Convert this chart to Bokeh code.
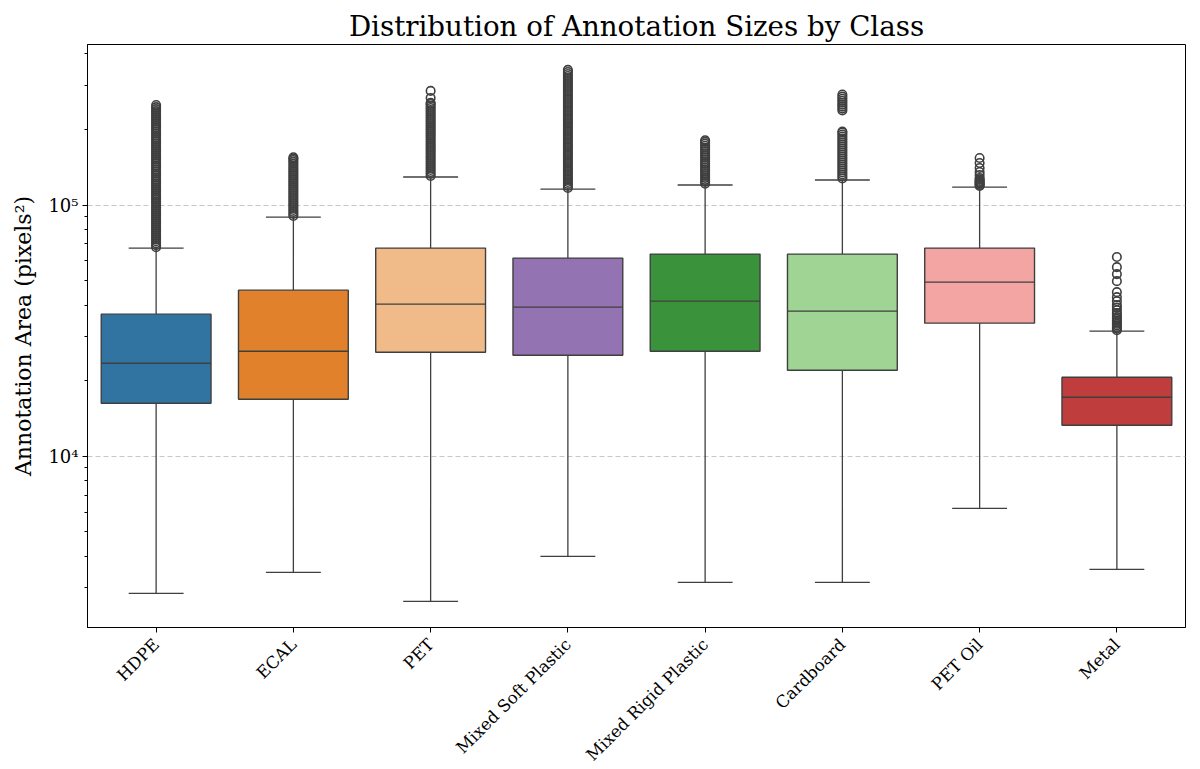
import math
from bokeh.plotting import figure
from bokeh.models import ColumnDataSource, FixedTicker, Range1d
from bokeh.embed import file_html
from bokeh.resources import INLINE

classes = ["HDPE", "ECAL", "PET", "Mixed Soft Plastic", "Mixed Rigid Plastic",
           "Cardboard", "PET Oil", "Metal"]
q1 = [16260, 16870, 25960, 25260, 26200, 22000, 33880, 13290]
median = [23460, 26200, 40330, 39230, 41450, 37820, 49350, 17180]
q3 = [36790, 45850, 67400, 61500, 63800, 63800, 67400, 20640]
whisker_low = [2846, 3450, 2645, 3995, 3148, 3148, 6205, 3546]
whisker_high = [67400, 89600, 129300, 115800, 120200, 125800, 117900, 31480]
colors = ["#3274a1", "#e1812c", "#f0bb88", "#9473b3", "#3a923a", "#a0d494",
          "#f3a5a4", "#c03d3e"]

outliers_hdpe = [68000, 69260, 70540, 71840, 73170, 74520, 75900, 77300, 78730,
                 80190, 81670, 83180, 84720, 86290, 87890, 89510, 91170, 92860,
                 94570, 96320, 98100, 99920, 101800, 103600, 105600, 107500,
                 109500, 111500, 113600, 115700, 117800, 120000, 122200, 124500,
                 126800, 129100, 131500, 133900, 136400, 138900, 141500, 144100,
                 146800, 149500, 152300, 155100, 158000, 160900, 163900, 166900,
                 170000, 173100, 176300, 179600, 182900, 186300, 189700, 193200,
                 196800, 200500, 204200, 208000, 211800, 215700, 219700, 223800,
                 227900, 232100, 236400, 240800, 245300, 250000]
outliers_ecal = [90500, 92200, 93900, 95600, 97400, 99200, 101000, 102900, 104800,
                 106700, 108700, 110700, 112800, 114900, 117000, 119200, 121400,
                 123600, 125900, 128200, 130600, 133000, 135500, 138000, 140500,
                 143100, 145800, 148500, 151200, 153100, 155000]
outliers_pet = [130500, 132900, 135400, 137900, 140500, 143100, 145700, 148400,
                151200, 154000, 156800, 159700, 162700, 165700, 168800, 171900,
                175100, 178300, 181600, 185000, 188400, 191900, 195500, 199100,
                202800, 206500, 210300, 214200, 218200, 222200, 226300, 230500,
                234800, 239100, 243500, 248000, 252600, 255000, 266900, 284600]
outliers_soft = [117000, 119200, 121400, 123600, 125900, 128200, 130600, 133000,
                 135500, 138000, 140500, 143100, 145800, 148500, 151200, 154000,
                 156900, 159800, 162700, 165700, 168800, 171900, 175100, 178300,
                 181600, 185000, 188400, 191900, 195500, 199100, 202800, 206500,
                 210300, 214200, 218200, 222200, 226300, 230500, 234800, 239100,
                 243500, 248000, 252600, 257300, 262100, 266900, 271800, 276800,
                 281900, 287200, 292500, 297900, 303400, 309000, 314700, 320500,
                 326500, 332500, 338700, 345000]
outliers_rigid = [121500, 123700, 126000, 128300, 130700, 133100, 135600, 138100,
                  140700, 143300, 145900, 148600, 151400, 154200, 157000, 159900,
                  162900, 165900, 169000, 172100, 175300, 178500, 181000]
outliers_cardboard = [127500, 129900, 132300, 134700, 137200, 139700, 142300,
                      145000, 147700, 150400, 153200, 156000, 158900, 161800,
                      164800, 167900, 171000, 174200, 177400, 180700, 184000,
                      187400, 190900, 194400, 196300,
                      237900, 242000, 246500, 251000, 255500, 260000, 265000,
                      270000, 275500]
outliers_petoil = [119100, 120200, 121300, 122500, 123600, 124800, 126500,
                   128100, 131700, 135300, 140400, 147000, 153900]
outliers_metal = [31770, 32200, 32650, 33200, 33700, 34190, 34700, 35240, 35790,
                  36500, 37130, 38170, 39100, 39960, 41450, 43000, 45020, 49800,
                  53120, 56600, 62100]
outliers = [outliers_hdpe, outliers_ecal, outliers_pet, outliers_soft,
            outliers_rigid, outliers_cardboard, outliers_petoil, outliers_metal]

y_ticks = [10000, 100000]
y_minor = [2000, 3000, 4000, 5000, 6000, 7000, 8000, 9000,
           20000, 30000, 40000, 50000, 60000, 70000, 80000, 90000,
           200000, 300000, 400000]

FONT = "DejaVu Serif"
EDGE = "#3f3f3f"

xs = list(range(len(classes)))
box_src = ColumnDataSource(dict(
    x=xs, q1=q1, q3=q3, med=median, lo=whisker_low, hi=whisker_high,
    color=colors,
    x0=[x - 0.4 for x in xs], x1=[x + 0.4 for x in xs],
    c0=[x - 0.2 for x in xs], c1=[x + 0.2 for x in xs],
))
ox, oy = [], []
for i, vals in enumerate(outliers):
    ox.extend([i] * len(vals))
    oy.extend(vals)
out_src = ColumnDataSource(dict(x=ox, y=oy))

p = figure(frame_width=1098, frame_height=583, y_axis_type="log",
           x_range=Range1d(-0.5, 7.5), y_range=Range1d(2083, 435500),
           output_backend="svg", toolbar_location=None,
           min_border_left=87, min_border_right=8, min_border_top=44,
           min_border_bottom=134,
           title="Distribution of Annotation Sizes by Class")

p.title.text_font = FONT
p.title.text_font_size = "27.7px"
p.title.text_font_style = "normal"
p.title.text_color = "black"
p.title.align = "center"
p.title.standoff = 3

p.outline_line_color = "black"
p.outline_line_width = 1
p.outline_line_alpha = 1

p.xgrid.grid_line_color = None
p.ygrid.grid_line_color = "#c8c8c8"
p.ygrid.grid_line_dash = "5 3"
p.ygrid.grid_line_width = 1

# axes
p.xaxis.ticker = FixedTicker(ticks=xs)
p.xaxis.major_label_overrides = {i: c for i, c in enumerate(classes)}
p.xaxis.major_label_orientation = math.pi / 4
p.xaxis.minor_tick_line_color = None
p.yaxis.ticker = FixedTicker(ticks=y_ticks, minor_ticks=y_minor)
p.yaxis.major_label_overrides = {10000: "10⁴", 100000: "10⁵"}
p.yaxis.axis_label = "Annotation Area (pixels²)"
for ax in (p.xaxis, p.yaxis):
    ax.axis_line_color = "black"
    ax.major_tick_line_color = "black"
    ax.major_tick_out = 5
    ax.major_tick_in = 0
    ax.major_label_text_font = FONT
    ax.major_label_text_font_size = "16.7px"
    ax.major_label_text_color = "black"
    ax.major_label_standoff = 4
    ax.axis_label_text_font = FONT
    ax.axis_label_text_font_size = "22px"
    ax.axis_label_text_font_style = "normal"
    ax.axis_label_text_color = "black"
p.xaxis.major_label_standoff = 9
p.yaxis.minor_tick_line_color = "black"
p.yaxis.minor_tick_out = 3
p.yaxis.minor_tick_in = 0
p.yaxis.major_label_text_font_size = "18px"
p.yaxis.axis_label_standoff = 9

# whiskers
p.segment(x0="x", y0="q3", x1="x", y1="hi", source=box_src, line_color=EDGE, line_width=1.3)
p.segment(x0="x", y0="q1", x1="x", y1="lo", source=box_src, line_color=EDGE, line_width=1.3)
p.segment(x0="c0", y0="hi", x1="c1", y1="hi", source=box_src, line_color=EDGE, line_width=1.3)
p.segment(x0="c0", y0="lo", x1="c1", y1="lo", source=box_src, line_color=EDGE, line_width=1.3)
# boxes
p.vbar(x="x", width=0.8, bottom="q1", top="q3", source=box_src,
       fill_color="color", line_color=EDGE, line_width=1.4)
p.segment(x0="x0", y0="med", x1="x1", y1="med", source=box_src, line_color=EDGE, line_width=1.4)
# outliers
p.scatter(x="x", y="y", source=out_src, marker="circle", size=8.5,
          fill_color=None, line_color=EDGE, line_width=1.6)

open("out.html", "w").write(file_html(p, INLINE))
